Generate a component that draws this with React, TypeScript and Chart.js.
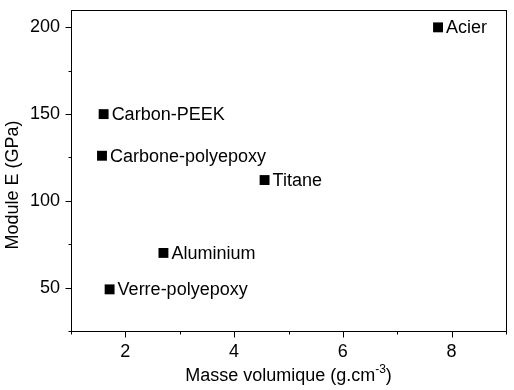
import React, { useEffect, useRef } from "react";
import { Chart, registerables } from "chart.js";

Chart.register(...registerables);

const materials = ["Acier", "Carbon-PEEK", "Carbone-polyepoxy", "Titane", "Aluminium", "Verre-polyepoxy"];
const density = [7.75, 1.6, 1.57, 4.56, 2.7, 1.71];
const modulus = [200, 150, 126, 112, 70, 49];

const xTickValues = [1, 2, 3, 4, 5, 6, 7, 8, 9];
const xLabelled = [2, 4, 6, 8];
const yTickValues = [25, 50, 75, 100, 125, 150, 175, 200];
const yLabelled = [50, 100, 150, 200];

const xTitleMain = "Masse volumique (g.cm";
const xTitleSup = "-3";
const xTitleEnd = ")";
const yTitle = "Module E (GPa)";

const FONT = "'Liberation Sans', Arial, Helvetica, sans-serif";

const zeroPad = (scale: any) => {
  scale.paddingTop = 0;
  scale.paddingBottom = 0;
  scale.paddingLeft = 0;
  scale.paddingRight = 0;
};

const decorPlugin = {
  id: "decor",
  afterDatasetsDraw(chart: any) {
    const { ctx } = chart;
    const meta = chart.getDatasetMeta(0);
    ctx.save();
    ctx.fillStyle = "#000";
    ctx.font = `18px ${FONT}`;
    ctx.textAlign = "left";
    ctx.textBaseline = "middle";
    meta.data.forEach((el: any, i: number) => {
      ctx.fillText(materials[i], el.x + 8, el.y + 1);
    });
    ctx.restore();
  },
  afterDraw(chart: any) {
    const { ctx, chartArea: a, scales } = chart;
    ctx.save();
    ctx.strokeStyle = "#000";
    ctx.lineWidth = 1;
    const L = Math.round(a.left) + 0.5;
    const R = Math.round(a.right) + 0.5;
    const T = Math.round(a.top) + 0.5;
    const B = Math.round(a.bottom) + 0.5;
    ctx.strokeRect(L, T, R - L, B - T);
    ctx.beginPath();
    xTickValues.forEach((v) => {
      const px = Math.round(scales.x.getPixelForValue(v)) + 0.5;
      const len = xLabelled.includes(v) ? 6 : 3;
      ctx.moveTo(px, B);
      ctx.lineTo(px, B + len);
    });
    yTickValues.forEach((v) => {
      const py = Math.round(scales.y.getPixelForValue(v)) + 0.5;
      const len = yLabelled.includes(v) ? 6 : 3;
      ctx.moveTo(L, py);
      ctx.lineTo(L - len, py);
    });
    ctx.stroke();

    // y title
    ctx.fillStyle = "#000";
    ctx.font = `18px ${FONT}`;
    ctx.save();
    ctx.translate(13, 185);
    ctx.rotate(-Math.PI / 2);
    ctx.textAlign = "center";
    ctx.textBaseline = "middle";
    ctx.fillText(yTitle, 0, 0);
    ctx.restore();

    // x title with superscript
    ctx.textBaseline = "alphabetic";
    ctx.textAlign = "left";
    ctx.font = `18px ${FONT}`;
    const w1 = ctx.measureText(xTitleMain).width;
    const w3 = ctx.measureText(xTitleEnd).width;
    ctx.font = `12px ${FONT}`;
    const w2 = ctx.measureText(xTitleSup).width;
    const total = w1 + w2 + w3;
    const cx = (a.left + a.right) / 2;
    const x0 = cx - total / 2;
    const base = 381;
    ctx.font = `18px ${FONT}`;
    ctx.fillText(xTitleMain, x0, base);
    ctx.font = `12px ${FONT}`;
    ctx.fillText(xTitleSup, x0 + w1, base - 8);
    ctx.font = `18px ${FONT}`;
    ctx.fillText(xTitleEnd, x0 + w1 + w2, base);
    ctx.restore();
  },
};

export default function App() {
  const ref = useRef<HTMLCanvasElement>(null);

  useEffect(() => {
    if (!ref.current) return;
    const chart = new Chart(ref.current, {
      type: "scatter",
      data: {
        datasets: [
          {
            data: density.map((d, i) => ({ x: d, y: modulus[i] })),
            pointStyle: "rect",
            pointRadius: 7,
            pointHoverRadius: 7,
            backgroundColor: "#000",
            borderColor: "#000",
            borderWidth: 0,
          },
        ],
      },
      options: {
        responsive: false,
        animation: false,
        events: [],
        layout: { padding: { top: 10, right: 8, left: 0, bottom: 0 } },
        plugins: {
          legend: { display: false },
          tooltip: { enabled: false },
          title: { display: false },
        },
        scales: {
          x: {
            type: "linear",
            min: 1,
            max: 9,
            afterBuildTicks: (scale: any) => {
              scale.ticks = xTickValues.map((v) => ({ value: v }));
            },
            afterFit: (scale: any) => {
              scale.height = 59;
              zeroPad(scale);
            },
            grid: { display: false, drawTicks: false },
            border: { display: false },
            ticks: {
              color: "#000",
              padding: 10,
              maxRotation: 0,
              autoSkip: false,
              font: { family: FONT, size: 18 },
              callback: (v: any) => (xLabelled.includes(Number(v)) ? String(v) : ""),
            },
          },
          y: {
            type: "linear",
            min: 25,
            max: 210,
            afterBuildTicks: (scale: any) => {
              scale.ticks = yTickValues.map((v) => ({ value: v }));
            },
            afterFit: (scale: any) => {
              scale.width = 71;
              zeroPad(scale);
            },
            grid: { display: false, drawTicks: false },
            border: { display: false },
            ticks: {
              color: "#000",
              padding: 11,
              autoSkip: false,
              font: { family: FONT, size: 18 },
              callback: (v: any) => (yLabelled.includes(Number(v)) ? String(v) : ""),
            },
          },
        },
      },
      plugins: [decorPlugin],
    });
    return () => chart.destroy();
  }, []);

  return (
    <div style={{ position: "absolute", left: 0, top: 0, width: 514, height: 390, background: "#fff" }}>
      <canvas ref={ref} width={514} height={390} style={{ display: "block" }} />
    </div>
  );
}
